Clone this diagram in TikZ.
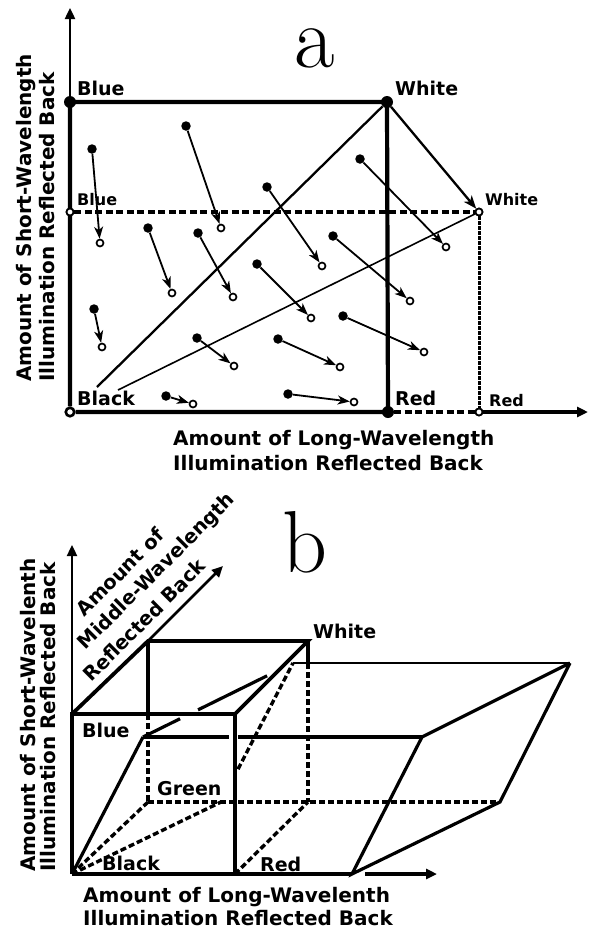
\documentclass[tikz,border=0pt]{standalone}
\usepackage{fontspec}
\newfontfamily\lab{DejaVu Sans}
\usetikzlibrary{arrows.meta,calc}
\begin{document}
\begin{tikzpicture}[x=1pt,y=-1pt,
 lab/.style={font=\lab\bfseries\fontsize{19}{22}\selectfont, anchor=base west, inner sep=0pt},
 axl/.style={font=\lab\bfseries\fontsize{20}{24}\selectfont, anchor=base west, inner sep=0pt},
 midl/.style={font=\lab\bfseries\fontsize{19.5}{24}\selectfont, inner sep=0pt, rotate=45},
 slab/.style={font=\lab\bfseries\fontsize{16}{18}\selectfont, anchor=base west, inner sep=0pt},
 big/.style={font=\fontsize{88}{88}\selectfont, inner sep=0pt, anchor=base},
 fdot/.style={circle, fill=black, inner sep=0pt, minimum size=9.5pt},
 bdot/.style={circle, fill=black, inner sep=0pt, minimum size=12pt},
 odot/.style={circle, draw=black, fill=white, line width=1.7pt, inner sep=0pt, minimum size=7pt},
 ocorner/.style={circle, draw=black, fill=white, line width=2.6pt, inner sep=0pt, minimum size=8.5pt},
 boxline/.style={line width=4.2pt},
 thinax/.style={line width=2.4pt},
 axtip/.style={-{Triangle[length=11pt,width=10pt]}},
 darrow/.style={line width=1.8pt, -{Stealth[length=12pt,width=9pt,inset=3.5pt]}},
 dashA/.style={line width=3.4pt, dash pattern=on 7pt off 3.5pt},
 dashF/.style={line width=3pt, dash pattern=on 3.5pt off 1.5pt},
 cube/.style={line width=3.8pt},
 shear/.style={line width=3.2pt},
 hid/.style={line width=3.4pt, dash pattern=on 6pt off 3pt},
]
\fill[white] (0,0) rectangle (590,930);
\useasboundingbox (0,0) rectangle (590,930);

% ---------------- part a ----------------
\node[big] (la) at (315,67) {a};
\coordinate (ytop) at (70,8);
\coordinate (xend) at (588,412);
\coordinate (blk1) at (97,387);
\coordinate (blk2) at (118,390);
\node[ocorner] (O) at (70,412) {};
\node[bdot] (Bl) at (70,102) {};
\node[bdot] (Wh) at (387,102) {};
\node[bdot] (Rd) at (388,412) {};
\node[odot] (bl2) at (70,212) {};
\node[odot] (wh2) at (479,212) {};
\node[odot] (rd2) at (479,412) {};

\draw[boxline] (O) -- (Bl.center) -- (Wh.center) -- (Rd.center) -- (O);
\draw[thinax,axtip] (Bl) -- (ytop);
\draw[boxline,axtip] (rd2) -- (xend);
\draw[dashA] (bl2) -- (wh2);
\draw[dashF] (wh2) -- (rd2);
\draw[dashA] (Rd) -- (rd2);
\draw[line width=2.3pt] (blk1) -- (Wh);
\draw[line width=1.6pt] (blk2) -- (wh2);
\draw[line width=2.3pt, -{Stealth[length=13pt,width=10pt,inset=3.5pt]}] (Wh) -- (wh2);
\node[odot] at (bl2) {};
\node[odot] at (wh2) {};
\node[odot] at (rd2) {};

\foreach \i/\sx/\sy/\ex/\ey in {
 1/92/149/100/243, 2/186/126/221/228, 3/267/187/322/266, 4/360/159/446/247,
 5/148/228/172/293, 6/198/233/233/297, 7/333/236/410/301, 8/257/264/311/318,
 9/94/309/102/347, 10/197/338/234/366, 11/343/316/424/352, 12/278/339/340/367,
 13/166/396/193/404, 14/288/394/354/402}{
 \node[fdot] (s\i) at (\sx,\sy) {};
 \node[odot] (e\i) at (\ex,\ey) {};
 \draw[darrow] (s\i) -- (e\i);
}

\node[lab] (tBl) at (77,95) {Blue};
\node[lab] (tWh) at (395,95) {White};
\node[slab] (tbl2) at (77,205) {Blue};
\node[slab] (twh2) at (485,205) {White};
\node[lab] (tBk) at (77,405) {Black};
\node[lab] (tRd) at (395,405) {Red};
\node[slab] (trd2) at (489,406) {Red};

\node[axl, rotate=90] (ya1) at (31,382) {Amount of Short-Wavelength};
\node[axl, rotate=90] (ya2) at (54,382) {Illumination Reflected Back};
\node[axl] (xa1) at (173,445) {Amount of Long-Wavelength};
\node[axl] (xa2) at (173,470.5) {Illumination Reflected Back};

% ---------------- part b ----------------
\node[big] (lb) at (305,572) {b};
\coordinate (K) at (72,874);
\coordinate (R) at (235,874);
\coordinate (B) at (72,714);
\coordinate (M) at (235,714);
\coordinate (G) at (148,802);
\coordinate (Y) at (308,802);
\coordinate (C) at (148,641);
\coordinate (W) at (308,641);
\coordinate (CM) at (148,714);
\coordinate (WM) at (308,663);
\coordinate (A) at (143,737);
\coordinate (P) at (293,663);
\coordinate (Q) at (570,663);
\coordinate (D) at (422,737);
\coordinate (E) at (352,874);
\coordinate (F) at (500,802);
\coordinate (H) at (221,802);
\coordinate (Ytop) at (72,545);
\coordinate (Mtip) at (223,566);
\coordinate (xs) at (365,874);
\coordinate (xe) at (437,874);

% hidden edges
\draw[hid] (CM) -- (G);
\draw[hid] (WM) -- (Y);
\draw[hid] (G) -- (K);
\draw[hid] (K) -- (H);
\draw[hid] ($(H)!0.236!(P)$) -- (P);
\draw[hid] (G) -- (F);
\draw[hid] (R) -- (Y);

% cube
\draw[cube] (K) -- (B) -- (M) -- (R);
\draw[cube] (K) -- (E);
\draw[cube] (B) -- (C) -- (W) -- (M);
\draw[cube] (C) -- (CM);
\draw[cube] (W) -- (WM);

% sheared solid
\draw[shear] (K) -- (A);
\draw[shear] (A) -- ($(A)!0.307!(D)$);
\draw[shear] ($(A)!0.34!(D)$) -- (D);
\draw[shear] (A) -- ($(A)!0.247!(P)$);
\draw[shear] ($(A)!0.367!(P)$) -- ($(A)!0.827!(P)$);
\draw[line width=2.8pt] (P) -- (Q);
\draw[shear] (Q) -- (D) -- (E) -- (F) -- (Q);

% axes
\draw[thinax,axtip] (B) -- (Ytop);
\draw[line width=2.8pt,axtip] (C) -- (Mtip);
\draw[cube,axtip] (xs) -- (xe);

\node[lab] (bW) at (313,638) {White};
\node[lab] (bB) at (82,737) {Blue};
\node[lab] (bG) at (157,795) {Green};
\node[lab] (bK) at (102,870) {Black};
\node[lab] (bR) at (260,871) {Red};

\node[midl] (m1) at (120,572) {Amount of};
\node[midl] (m2) at (157,572) {Middle-Wavelength};
\node[midl] (m3) at (144,620) {Reflected Back};

\node[axl, rotate=90] (yb1) at (35,872) {Amount of Short-Wavelenth};
\node[axl, rotate=90] (yb2) at (56,872) {Illumination Reflected Back};
\node[axl] (xb1) at (83,902) {Amount of Long-Wavelenth};
\node[axl] (xb2) at (83,925) {Illumination Reflected Back};
\end{tikzpicture}
\end{document}
